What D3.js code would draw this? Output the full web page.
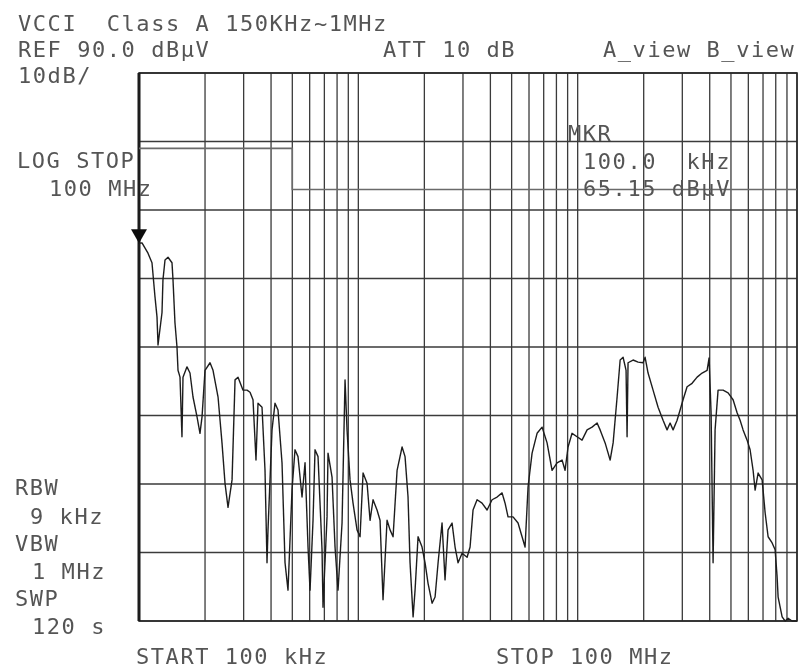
<!DOCTYPE html>
<html>
<head>
<meta charset="utf-8">
<script src="https://cdn.jsdelivr.net/npm/d3@7"></script>
<style>
  html, body { margin: 0; padding: 0; background: #fff; }
  svg { display: block; }
  .lbl text { font-family: "DejaVu Sans Mono", "Liberation Mono", monospace; font-size: 22px;
              letter-spacing: 1.55px; fill: #555; white-space: pre; }
</style>
</head>
<body>
<svg id="chart" width="802" height="671"></svg>
<script>
// Conducted emission sweep, 100 kHz – 100 MHz, log frequency axis
const traceFreqMHz = [
  0.100,0.1032,0.1099,0.1146,0.1183,0.1208,0.1221,0.1273,0.1286,0.1314,
  0.1356,0.1414,0.1429,0.1459,0.1490,0.1506,0.1538,0.1570,0.1587,0.1655,
  0.1708,0.1763,0.1839,0.1897,0.1938,0.2000,0.2108,0.2175,0.2293,0.2390,
  0.2467,0.2546,0.2656,0.2741,0.2828,0.2981,0.3108,0.3208,0.3310,0.3415,
  0.3488,0.3638,0.3754,0.3834,0.3874,0.4041,0.4170,0.4303,0.4488,0.4632,
  0.4779,0.4984,0.5143,0.5309,0.5537,0.5715,0.5897,0.6023,0.6215,0.6347,
  0.6550,0.6831,0.6902,0.7199,0.7274,0.7588,0.7830,0.8080,0.8428,0.8698,
  0.8882,0.9167,0.9459,0.9865,1.018,1.051,1.096,1.131,1.167,1.217,
  1.256,1.296,1.352,1.395,1.440,1.502,1.583,1.633,1.685,1.721,
  1.777,1.814,1.872,1.952,2.015,2.079,2.169,2.238,2.310,2.408,
  2.485,2.565,2.675,2.761,2.849,2.972,3.132,3.232,3.334,3.478,
  3.665,3.863,4.071,4.291,4.522,4.667,4.815,5.075,5.348,5.578,
  5.757,5.941,6.197,6.530,6.882,7.253,7.643,8.055,8.489,8.760,
  9.040,9.429,9.938,10.47,11.04,11.63,12.26,12.66,13.34,14.06,
  14.51,15.13,15.62,16.11,16.62,16.80,16.97,17.89,18.86,19.87,
  20.30,20.94,22.07,23.26,24.51,25.56,26.39,27.23,28.40,29.31,
  30.24,31.54,33.24,35.04,36.93,38.92,39.74,40.58,41.44,42.32,
  43.67,46.03,48.51,51.12,53.32,55.03,56.78,59.22,61.12,63.07,
  64.42,66.48,69.34,71.56,73.84,77.02,79.48,81.17,82.02,85.54,
  88.28,91.09,95.0,100
];
const traceLevel = [
  65.15,65.2,63.7,62.3,57.3,54.4,50.3,55.0,59.8,62.7,
  63.1,62.3,59.8,53.5,50.0,46.6,45.6,36.9,45.6,47.1,
  46.2,42.7,39.8,37.4,39.8,46.6,47.7,46.6,42.7,36.0,
  30.1,26.6,30.6,45.2,45.6,43.7,43.7,43.4,42.3,33.5,
  41.8,41.2,32.0,18.5,23.3,37.9,41.8,40.8,33.1,18.5,
  14.5,29.1,35.0,34.0,28.1,33.1,20.8,14.5,24.7,35.0,
  34.0,20.4,12.0,25.2,34.5,31.0,20.8,14.5,24.3,45.2,
  37.9,30.6,27.2,23.3,22.3,31.6,30.1,24.7,27.7,26.2,
  24.7,13.1,24.7,23.3,22.3,32.0,35.4,34.0,28.1,18.5,
  10.6,14.5,22.3,20.8,18.5,15.5,12.6,13.5,18.5,24.3,
  16.0,23.3,24.3,20.8,18.5,19.9,19.3,20.8,26.2,27.7,
  27.2,26.2,27.7,28.1,28.7,27.2,25.2,25.2,24.3,22.3,
  20.8,29.6,34.5,37.4,38.3,36.0,32.0,33.1,33.5,32.0,
  35.4,37.4,36.9,36.4,37.9,38.3,38.9,37.9,36.0,33.5,
  36.0,42.7,48.1,48.5,46.6,36.9,47.7,48.1,47.8,47.7,
  48.5,46.2,43.7,41.2,39.3,37.9,38.9,37.9,39.3,40.8,
  42.3,44.2,44.7,45.6,46.2,46.6,48.4,40.4,18.5,37.9,
  43.7,43.7,43.3,42.3,40.4,39.3,37.9,36.4,35.0,32.0,
  29.1,31.6,30.6,25.8,22.3,21.4,20.4,16.4,13.5,10.6,
  10.0,10.4,10.0,10.0
];

// VCCI Class A limit (dBµV): 79 below 500 kHz, 73 above
const limitFreqMHz = [0.1, 0.5, 0.5, 100];
const limitLevel   = [79, 79, 73, 73];

// Marker readout
const markerFreqMHz = 0.1;
const markerLevel = 65.15;

// Analyzer settings
const refLevel = 90, dbPerDiv = 10, divisions = 8;
const startMHz = 0.1, stopMHz = 100;

// Annotation text blocks
const headerLines = ["VCCI  Class A 150KHz~1MHz", "REF 90.0 dBµV", "10dB/"];
const attText = "ATT 10 dB";
const viewText = "A_view B_view";
const logStopLines = ["LOG STOP", "100 MHz"];
const markerLines = ["MKR", "100.0  kHz", "65.15 dBµV"];
const bwLines = ["RBW", "9 kHz", "VBW", "1 MHz", "SWP", "120 s"];
const startText = "START 100 kHz";
const stopText = "STOP 100 MHz";

const svg = d3.select("#chart");
svg.append("rect").attr("width", 802).attr("height", 671).attr("fill", "#fff");

const defs = svg.append("defs");
defs.append("filter").attr("id", "soft")
  .append("feGaussianBlur").attr("stdDeviation", 0.45);

const root = svg.append("g").attr("filter", "url(#soft)");

const plot = { left: 139, right: 797, top: 73, bottom: 621 };

const x = d3.scaleLog().domain([startMHz, stopMHz]).range([plot.left, plot.right]);
const y = d3.scaleLinear()
  .domain([refLevel - dbPerDiv * divisions, refLevel])
  .range([plot.bottom, plot.top]);

// Grid: log frequency lines and 10 dB level lines
const grid = root.append("g");
grid.selectAll("line.v")
  .data(x.ticks())
  .join("line")
  .attr("x1", d => x(d)).attr("x2", d => x(d))
  .attr("y1", plot.top).attr("y2", plot.bottom)
  .attr("stroke", "#3a3a3a").attr("stroke-width", 1.3);

grid.selectAll("line.h")
  .data(d3.range(refLevel - dbPerDiv * divisions, refLevel + 1, dbPerDiv))
  .join("line")
  .attr("x1", plot.left).attr("x2", plot.right)
  .attr("y1", d => y(d)).attr("y2", d => y(d))
  .attr("stroke", "#3a3a3a").attr("stroke-width", 1.3);

// Frame
root.append("rect")
  .attr("x", plot.left).attr("y", plot.top)
  .attr("width", plot.right - plot.left).attr("height", plot.bottom - plot.top)
  .attr("fill", "none").attr("stroke", "#2a2a2a").attr("stroke-width", 1.6);
root.append("line")
  .attr("x1", plot.left).attr("x2", plot.left)
  .attr("y1", plot.top).attr("y2", plot.bottom)
  .attr("stroke", "#1a1a1a").attr("stroke-width", 3);

// Limit line
const limitData = d3.zip(limitFreqMHz, limitLevel);
root.append("path")
  .datum(limitData)
  .attr("fill", "none")
  .attr("stroke", "#6a6a6a").attr("stroke-width", 1.6)
  .attr("d", d3.line().x(d => x(d[0])).y(d => y(d[1])));

// Measured trace
const traceData = d3.zip(traceFreqMHz, traceLevel);
root.append("path")
  .datum(traceData)
  .attr("fill", "none")
  .attr("stroke", "#1e1e1e").attr("stroke-width", 1.4)
  .attr("stroke-linejoin", "round")
  .attr("d", d3.line().x(d => x(d[0])).y(d => y(d[1])));

// Marker triangle
const mx = x(markerFreqMHz), my = y(markerLevel);
root.append("path")
  .attr("d", `M${mx - 8},${my - 14} L${mx + 8},${my - 14} L${mx},${my} Z`)
  .attr("fill", "#111");

// Text
const txt = root.append("g").attr("class", "lbl");
function put(s, tx, ty) {
  txt.append("text").attr("x", tx).attr("y", ty).attr("xml:space", "preserve").text(s);
}
headerLines.forEach((s, i) => put(s, 18, 31 + i * 26));
put(attText, 383, 57);
put(viewText, 603, 57);
put(logStopLines[0], 17, 168);
put(logStopLines[1], 49, 196);
put(markerLines[0], 568, 141);
put(markerLines[1], 583, 169);
put(markerLines[2], 583, 196);
const bwX = [15, 30, 15, 32, 15, 32];
const bwY = [495, 524, 551, 579, 606, 634];
bwLines.forEach((s, i) => put(s, bwX[i], bwY[i]));
put(startText, 136, 664);
put(stopText, 496, 664);
</script>
</body>
</html>
